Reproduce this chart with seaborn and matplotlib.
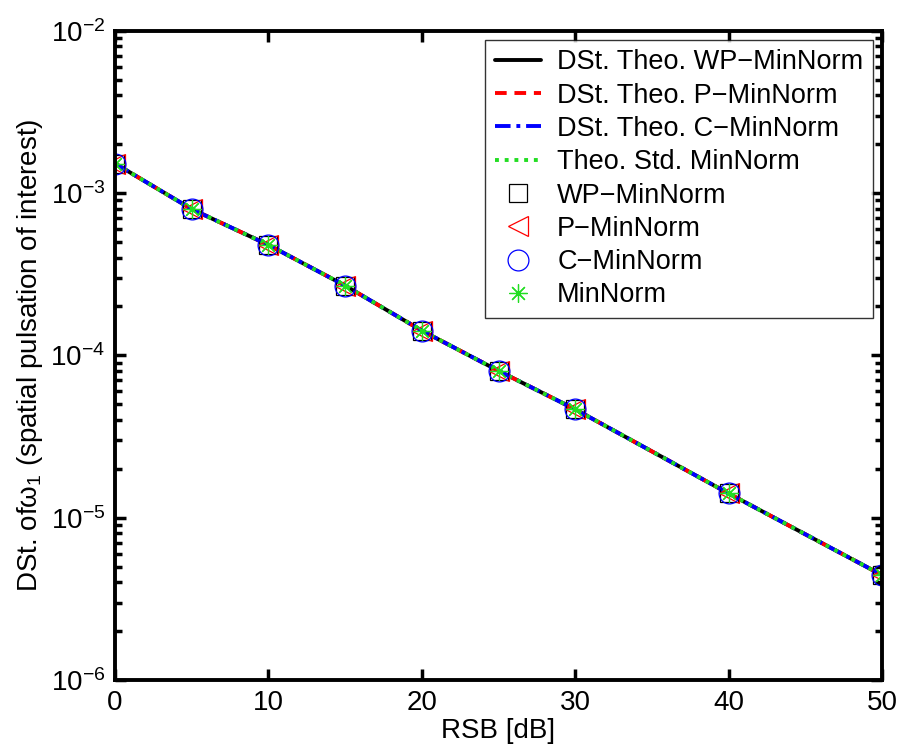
import numpy as np
import pandas as pd
import matplotlib
matplotlib.use("Agg")
import matplotlib.pyplot as plt
import seaborn as sns
from matplotlib.ticker import LogLocator, FixedLocator, NullFormatter

# ---- data ----
rsb = [0, 5, 10, 15, 20, 25, 30, 40, 50]
theo_wp = [1.52e-3, 7.96e-4, 4.79e-4, 2.69e-4, 1.42e-4, 8.03e-5, 4.65e-5, 1.41e-5, 4.43e-6]
theo_p = [1.52e-3, 7.96e-4, 4.79e-4, 2.69e-4, 1.42e-4, 8.03e-5, 4.65e-5, 1.41e-5, 4.43e-6]
theo_c = [1.52e-3, 7.96e-4, 4.79e-4, 2.69e-4, 1.42e-4, 8.03e-5, 4.65e-5, 1.41e-5, 4.43e-6]
theo_std = [1.52e-3, 7.96e-4, 4.79e-4, 2.69e-4, 1.42e-4, 8.03e-5, 4.65e-5, 1.41e-5, 4.43e-6]
emp_wp = [1.52e-3, 7.96e-4, 4.79e-4, 2.69e-4, 1.42e-4, 8.03e-5, 4.65e-5, 1.41e-5, 4.43e-6]
emp_p = [1.52e-3, 7.96e-4, 4.79e-4, 2.69e-4, 1.42e-4, 8.03e-5, 4.65e-5, 1.41e-5, 4.43e-6]
emp_c = [1.52e-3, 7.96e-4, 4.79e-4, 2.69e-4, 1.42e-4, 8.03e-5, 4.65e-5, 1.41e-5, 4.43e-6]
emp_std = [1.52e-3, 7.96e-4, 4.79e-4, 2.69e-4, 1.42e-4, 8.03e-5, 4.65e-5, 1.41e-5, 4.43e-6]

line_labels = ["DSt. Theo. WP\u2212MinNorm", "DSt. Theo. P\u2212MinNorm",
               "DSt. Theo. C\u2212MinNorm", "Theo. Std. MinNorm"]
marker_labels = ["WP\u2212MinNorm", "P\u2212MinNorm", "C\u2212MinNorm", "MinNorm"]
x_ticks = [0, 10, 20, 30, 40, 50]

sns.set_theme(style="white")
plt.rcParams["font.family"] = ["Liberation Sans", "DejaVu Sans"]
plt.rcParams["mathtext.fontset"] = "custom"
plt.rcParams["mathtext.rm"] = "Liberation Sans"
plt.rcParams["mathtext.it"] = "Liberation Sans:italic"
plt.rcParams["mathtext.bf"] = "Liberation Sans:bold"
for k in ["text.color", "axes.labelcolor", "xtick.color", "ytick.color", "axes.edgecolor"]:
    plt.rcParams[k] = "black"

fig = plt.figure(figsize=(9.01, 7.53), dpi=100)
ax = fig.add_axes([115 / 901, 1 - 680 / 753, (882 - 115) / 901, (680 - 30.7) / 753])

lw = 2.8
line_styles = [("black", "-"), ("red", (0, (3, 2))), ("blue", (0, (4, 1.5, 1, 1.5))), ("#22dd22", (0, (1, 1.5)))]
theo_sets = [theo_wp, theo_p, theo_c, theo_std]
for (col, ls), vals, lab in zip(line_styles, theo_sets, line_labels):
    sns.lineplot(x=rsb, y=vals, ax=ax, color=col, linestyle=ls, lw=lw, label=lab)

mk_specs = [("black", "s", 12.5), ("red", "<", 15), ("blue", "o", 15), ("#22dd22", (8, 2, 0), 13)]
emp_sets = [emp_wp, emp_p, emp_c, emp_std]
for (col, mk, ms), vals, lab in zip(mk_specs, emp_sets, marker_labels):
    sns.lineplot(x=rsb, y=vals, ax=ax, color=col, linestyle="none", marker=mk,
                 markersize=ms, markerfacecolor="none", markeredgecolor=col,
                 markeredgewidth=0.9, label=lab)

ax.set_yscale("log")
ax.set_xlim(0, 50)
ax.set_ylim(1e-6, 1e-2)
ax.xaxis.set_major_locator(FixedLocator(x_ticks))
ax.yaxis.set_major_locator(LogLocator(base=10, numticks=10))
ax.yaxis.set_minor_locator(LogLocator(base=10, subs=np.arange(2, 10), numticks=20))
ax.yaxis.set_minor_formatter(NullFormatter())

for s in ax.spines.values():
    s.set_linewidth(2.8)
    s.set_color("black")
    s.set_visible(True)
ax.tick_params(which="both", direction="in", top=True, right=True, bottom=True, left=True,
               color="black", labelcolor="black", labelsize=20)
ax.tick_params(which="major", length=8, width=2.5, pad=7)
ax.tick_params(axis="y", which="minor", length=5, width=2.5, left=True, right=True)
ax.tick_params(axis="x", which="minor", bottom=False, top=False)

ax.set_xlabel("RSB [dB]", fontsize=20, labelpad=2)
ax.set_ylabel(r"DSt. of$\mathregular{\omega_1}$ (spatial pulsation of interest)", fontsize=20, labelpad=4)

leg = ax.legend(loc="upper right", bbox_to_anchor=(0.988, 0.986), borderaxespad=0,
                fontsize=19.5, frameon=True, fancybox=False, handlelength=1.7,
                handletextpad=0.6, labelspacing=0.27, borderpad=0.35)
leg.get_frame().set_edgecolor("black")
leg.get_frame().set_linewidth(1.0)
for t in leg.get_texts():
    t.set_color("black")

fig.savefig("out.png", dpi=100, facecolor="white")
